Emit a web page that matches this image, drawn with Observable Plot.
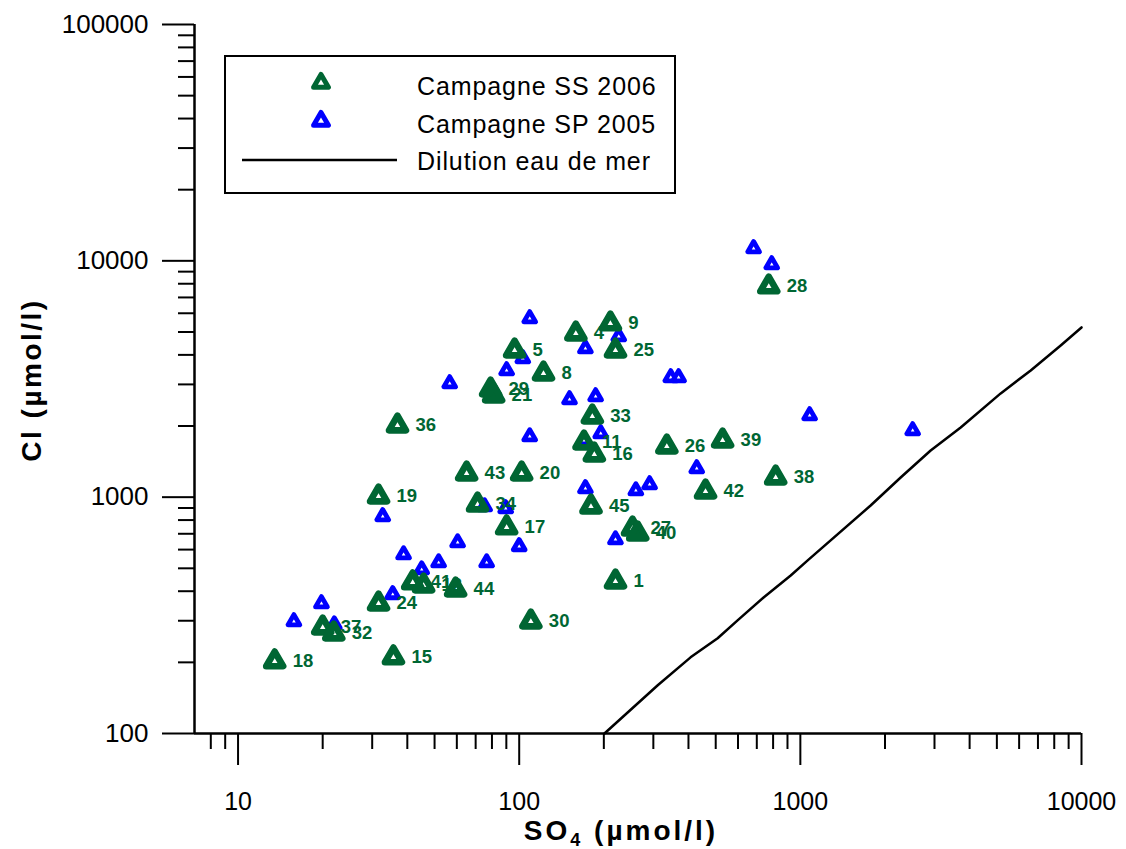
<!DOCTYPE html>
<html>
<head>
<meta charset="utf-8">
<script src="https://cdn.jsdelivr.net/npm/d3@7"></script>
<script src="https://cdn.jsdelivr.net/npm/@observablehq/plot@0.6"></script>
<style>
  html, body { margin: 0; padding: 0; background: white; }
  svg { display: block; }
</style>
</head>
<body>
<div id="chart"></div>
<script>
// ---- Data ----
// Campagne SS 2006 (green, labelled)
const ssLabels = ["18","15","37","32","24","19","36","41","12","44","43","34","17","20","30","5","29","21","8","4","9","25","33","11","16","45","27","40","1","26","39","42","38","28"];
const ssSO4 = [13.5, 35.7, 20.0, 21.9, 31.6, 31.6, 36.9, 41.8, 45.7, 59.4, 65.0, 71.1, 90.2, 102, 110, 96.3, 79.1, 81.1, 122, 159, 211, 220, 182, 170, 185, 180, 253, 264, 220, 335, 529, 460, 817, 772];
const ssCl  = [202, 210, 281, 265, 355, 1007, 2011, 436, 423, 407, 1260, 931, 745, 1260, 298, 4176, 2856, 2694, 3338, 4929, 5435, 4176, 2195, 1704, 1516, 913, 737, 702, 440, 1639, 1738, 1057, 1211, 7794];

// Campagne SP 2005 (blue)
const spSO4 = [682, 791, 346, 369, 1079, 2509, 109, 103, 90.2, 56.6, 172, 226, 151, 187, 109, 195, 170, 428, 172, 260, 291, 220, 75.3, 89.5, 32.7, 60.4, 100, 38.8, 51.7, 76.6, 45.0, 35.5, 19.8, 15.8, 22.0];
const spCl  = [11287, 9656, 3211, 3211, 2217, 1916, 5705, 3864, 3438, 3028, 4258, 4787, 2591, 2668, 1806, 1860, 1738, 1323, 1089, 1067, 1132, 662, 913, 896, 829, 643, 619, 572, 529, 529, 494, 388, 355, 298, 289];

// Dilution eau de mer (black line)
const dilSO4 = [201, 311, 407, 508, 598, 740, 924, 1062, 1778, 2274, 2907, 3718, 5159, 6597, 8433, 10000];
const dilCl  = [100, 160, 210, 253, 301, 376, 466, 540, 922, 1211, 1576, 1972, 2748, 3438, 4385, 5226];

// Ticks
const xMajor = [10, 100, 1000, 10000];
const xMinor = [8, 9, 20, 30, 40, 50, 60, 70, 80, 90, 200, 300, 400, 500, 600, 700, 800, 900, 2000, 3000, 4000, 5000, 6000, 7000, 8000, 9000];
const yMajor = [100, 1000, 10000, 100000];
const yMinor = [200, 300, 400, 500, 600, 700, 800, 900, 2000, 3000, 4000, 5000, 6000, 7000, 8000, 9000, 20000, 30000, 40000, 50000, 60000, 70000, 80000, 90000];

const seriesNames = ["Campagne SS 2006", "Campagne SP 2005", "Dilution eau de mer"];
const GREEN = "#006633";
const BLUE = "#0000ff";

// tables built from the arrays
const ss = ssLabels.map((l, i) => ({label: l, so4: ssSO4[i], cl: ssCl[i]}));
const sp = spSO4.map((v, i) => ({so4: v, cl: spCl[i]}));
const dil = dilSO4.map((v, i) => ({so4: v, cl: dilCl[i]}));

const font = "'Liberation Sans', Arial, Helvetica, sans-serif";

const plot = Plot.plot({
  width: 1126,
  height: 849,
  marginLeft: 194,
  marginRight: 45,
  marginTop: 24,
  marginBottom: 116,
  x: {type: "log", domain: [7, 10000]},
  y: {type: "log", domain: [100, 100000]},
  style: {fontFamily: font, fontSize: "25px", color: "black", background: "white"},
  marks: [
    Plot.axisX({ticks: xMajor, tickSize: 32, tickPadding: 27, tickFormat: d => String(d), strokeWidth: 2, label: null, fontSize: 25}),
    Plot.axisX({ticks: xMinor, tickSize: 16, tickFormat: () => "", strokeWidth: 2, label: null}),
    Plot.axisY({ticks: yMajor, tickSize: 32, tickPadding: 14, tickFormat: d => String(d), strokeWidth: 2, label: null, fontSize: 26}),
    Plot.axisY({ticks: yMinor, tickSize: 16, tickFormat: () => "", strokeWidth: 2, label: null}),
    Plot.ruleY([100], {stroke: "black", strokeWidth: 2.5}),
    Plot.ruleX([7], {stroke: "black", strokeWidth: 2.5}),
    Plot.line(dil, {x: "so4", y: "cl", stroke: "black", strokeWidth: 2.5}),
    Plot.dot(sp, {x: "so4", y: "cl", symbol: "triangle", r: 4.4, fill: "white", stroke: BLUE, strokeWidth: 4.8, strokeLinejoin: "round"}),
    Plot.dot(ss, {x: "so4", y: "cl", symbol: "triangle", r: 6.3, fill: "none", stroke: GREEN, strokeWidth: 6.6, strokeLinejoin: "round"}),
    Plot.text(ss, {x: "so4", y: "cl", text: "label", dx: 18, textAnchor: "start", fontWeight: "bold", fontSize: 18.5, fill: GREEN})
  ]
});

document.getElementById("chart").appendChild(plot);

const svg = d3.select(plot);

// Axis titles
svg.append("text")
  .attr("transform", "translate(41,380) rotate(-90)")
  .attr("text-anchor", "middle")
  .attr("font-family", font)
  .attr("font-weight", "bold")
  .attr("font-size", 28)
  .attr("letter-spacing", 2.5)
  .attr("fill", "black")
  .text("Cl (µmol/l)");

const xt = svg.append("text")
  .attr("x", 621)
  .attr("y", 840)
  .attr("text-anchor", "middle")
  .attr("font-family", font)
  .attr("font-weight", "bold")
  .attr("font-size", 28)
  .attr("letter-spacing", 3)
  .attr("fill", "black");
xt.append("tspan").text("SO");
xt.append("tspan").attr("font-size", 18).attr("dy", 6).text("4");
xt.append("tspan").attr("dy", -6).text(" (µmol/l)");

// Legend
const lg = svg.append("g").attr("text-anchor", "start");
lg.append("rect").attr("x", 225).attr("y", 56).attr("width", 450).attr("height", 137)
  .attr("fill", "white").attr("stroke", "black").attr("stroke-width", 2);
const tri = d3.symbol(d3.symbolTriangle, 95)();
lg.append("path").attr("d", tri).attr("transform", "translate(321,83)")
  .attr("fill", "white").attr("stroke", GREEN).attr("stroke-width", 5).attr("stroke-linejoin", "round");
lg.append("path").attr("d", tri).attr("transform", "translate(321,121)")
  .attr("fill", "white").attr("stroke", BLUE).attr("stroke-width", 5).attr("stroke-linejoin", "round");
lg.append("line").attr("x1", 242).attr("x2", 397).attr("y1", 160).attr("y2", 160)
  .attr("stroke", "black").attr("stroke-width", 2.5);
const ly = [95, 133, 170];
seriesNames.forEach((n, i) => {
  lg.append("text").attr("x", 417).attr("y", ly[i])
    .attr("text-anchor", "start")
    .attr("font-family", font).attr("font-size", 25).attr("letter-spacing", 0.9)
    .attr("fill", "black").text(n);
});
</script>
</body>
</html>
